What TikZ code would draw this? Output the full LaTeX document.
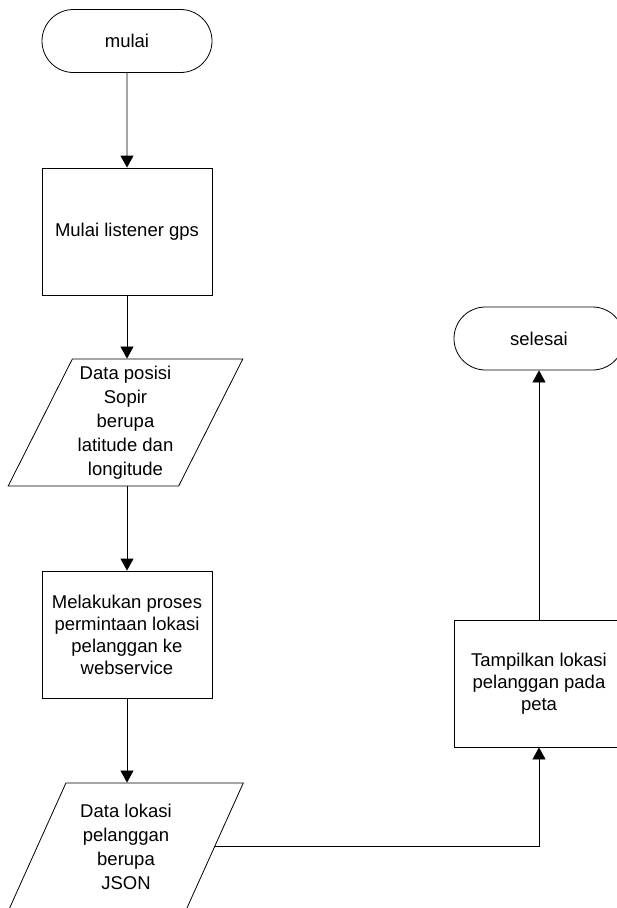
\documentclass[tikz,border=0pt]{standalone}
\usepackage{fontspec}
\setmainfont{Liberation Sans}
\usetikzlibrary{shapes.geometric,shapes.misc,arrows.meta}

\begin{document}
\begin{tikzpicture}[x=1pt,y=-1pt]
    % Define styles
    \tikzstyle{terminal} = [rounded rectangle, draw, line width=0.8pt, minimum width=170pt, minimum height=63pt, inner sep=0pt]
    \tikzstyle{process} = [rectangle, draw, line width=0.8pt, minimum width=170pt, minimum height=127pt, inner sep=0pt, align=center]
    \tikzstyle{io} = [trapezium, trapezium stretches=true, trapezium left angle=63, trapezium right angle=117, draw, line width=0.8pt, minimum width=235pt, minimum height=127pt, inner sep=0pt, align=center, font=\fontsize{18.5}{24}\selectfont]
    \tikzstyle{flow} = [line width=0.8pt, -{Triangle[width=13pt,length=12pt]}]

    % Page size
    \useasboundingbox (0,0) rectangle (617,908);

    \begin{scope}[every node/.append style={font=\fontsize{18.5}{22}\selectfont}]
    % Left column
    \node[terminal] (mulai) at (127,41) {mulai};
    \node[process] (listener) at (127,231.5) {Mulai listener gps};
    \node[io] (posisi) at (125.5,422.5) {Data posisi\\Sopir\\berupa\\latitude dan\\longitude};
    \node[process] (permintaan) at (127,634.5) {Melakukan proses\\permintaan lokasi\\pelanggan ke\\webservice};
    \node[io] (lokasi) at (126,846.5) {Data lokasi\\pelanggan\\berupa\\JSON};

    % Right column
    \node[process] (tampil) at (539,683.5) {Tampilkan lokasi\\pelanggan pada\\peta};
    \node[terminal] (selesai) at (539,338.5) {selesai};
    \end{scope}

    % Arrows
    \draw[flow] (mulai) -- (listener);
    \draw[flow] (listener) -- (posisi.north -| listener);
    \draw[flow] (posisi.south -| permintaan) -- (permintaan);
    \draw[flow] (permintaan) -- (lokasi.north -| permintaan);
    \draw[flow] (lokasi.east) -| (tampil.south);
    \draw[flow] (tampil) -- (selesai);
\end{tikzpicture}
\end{document}
